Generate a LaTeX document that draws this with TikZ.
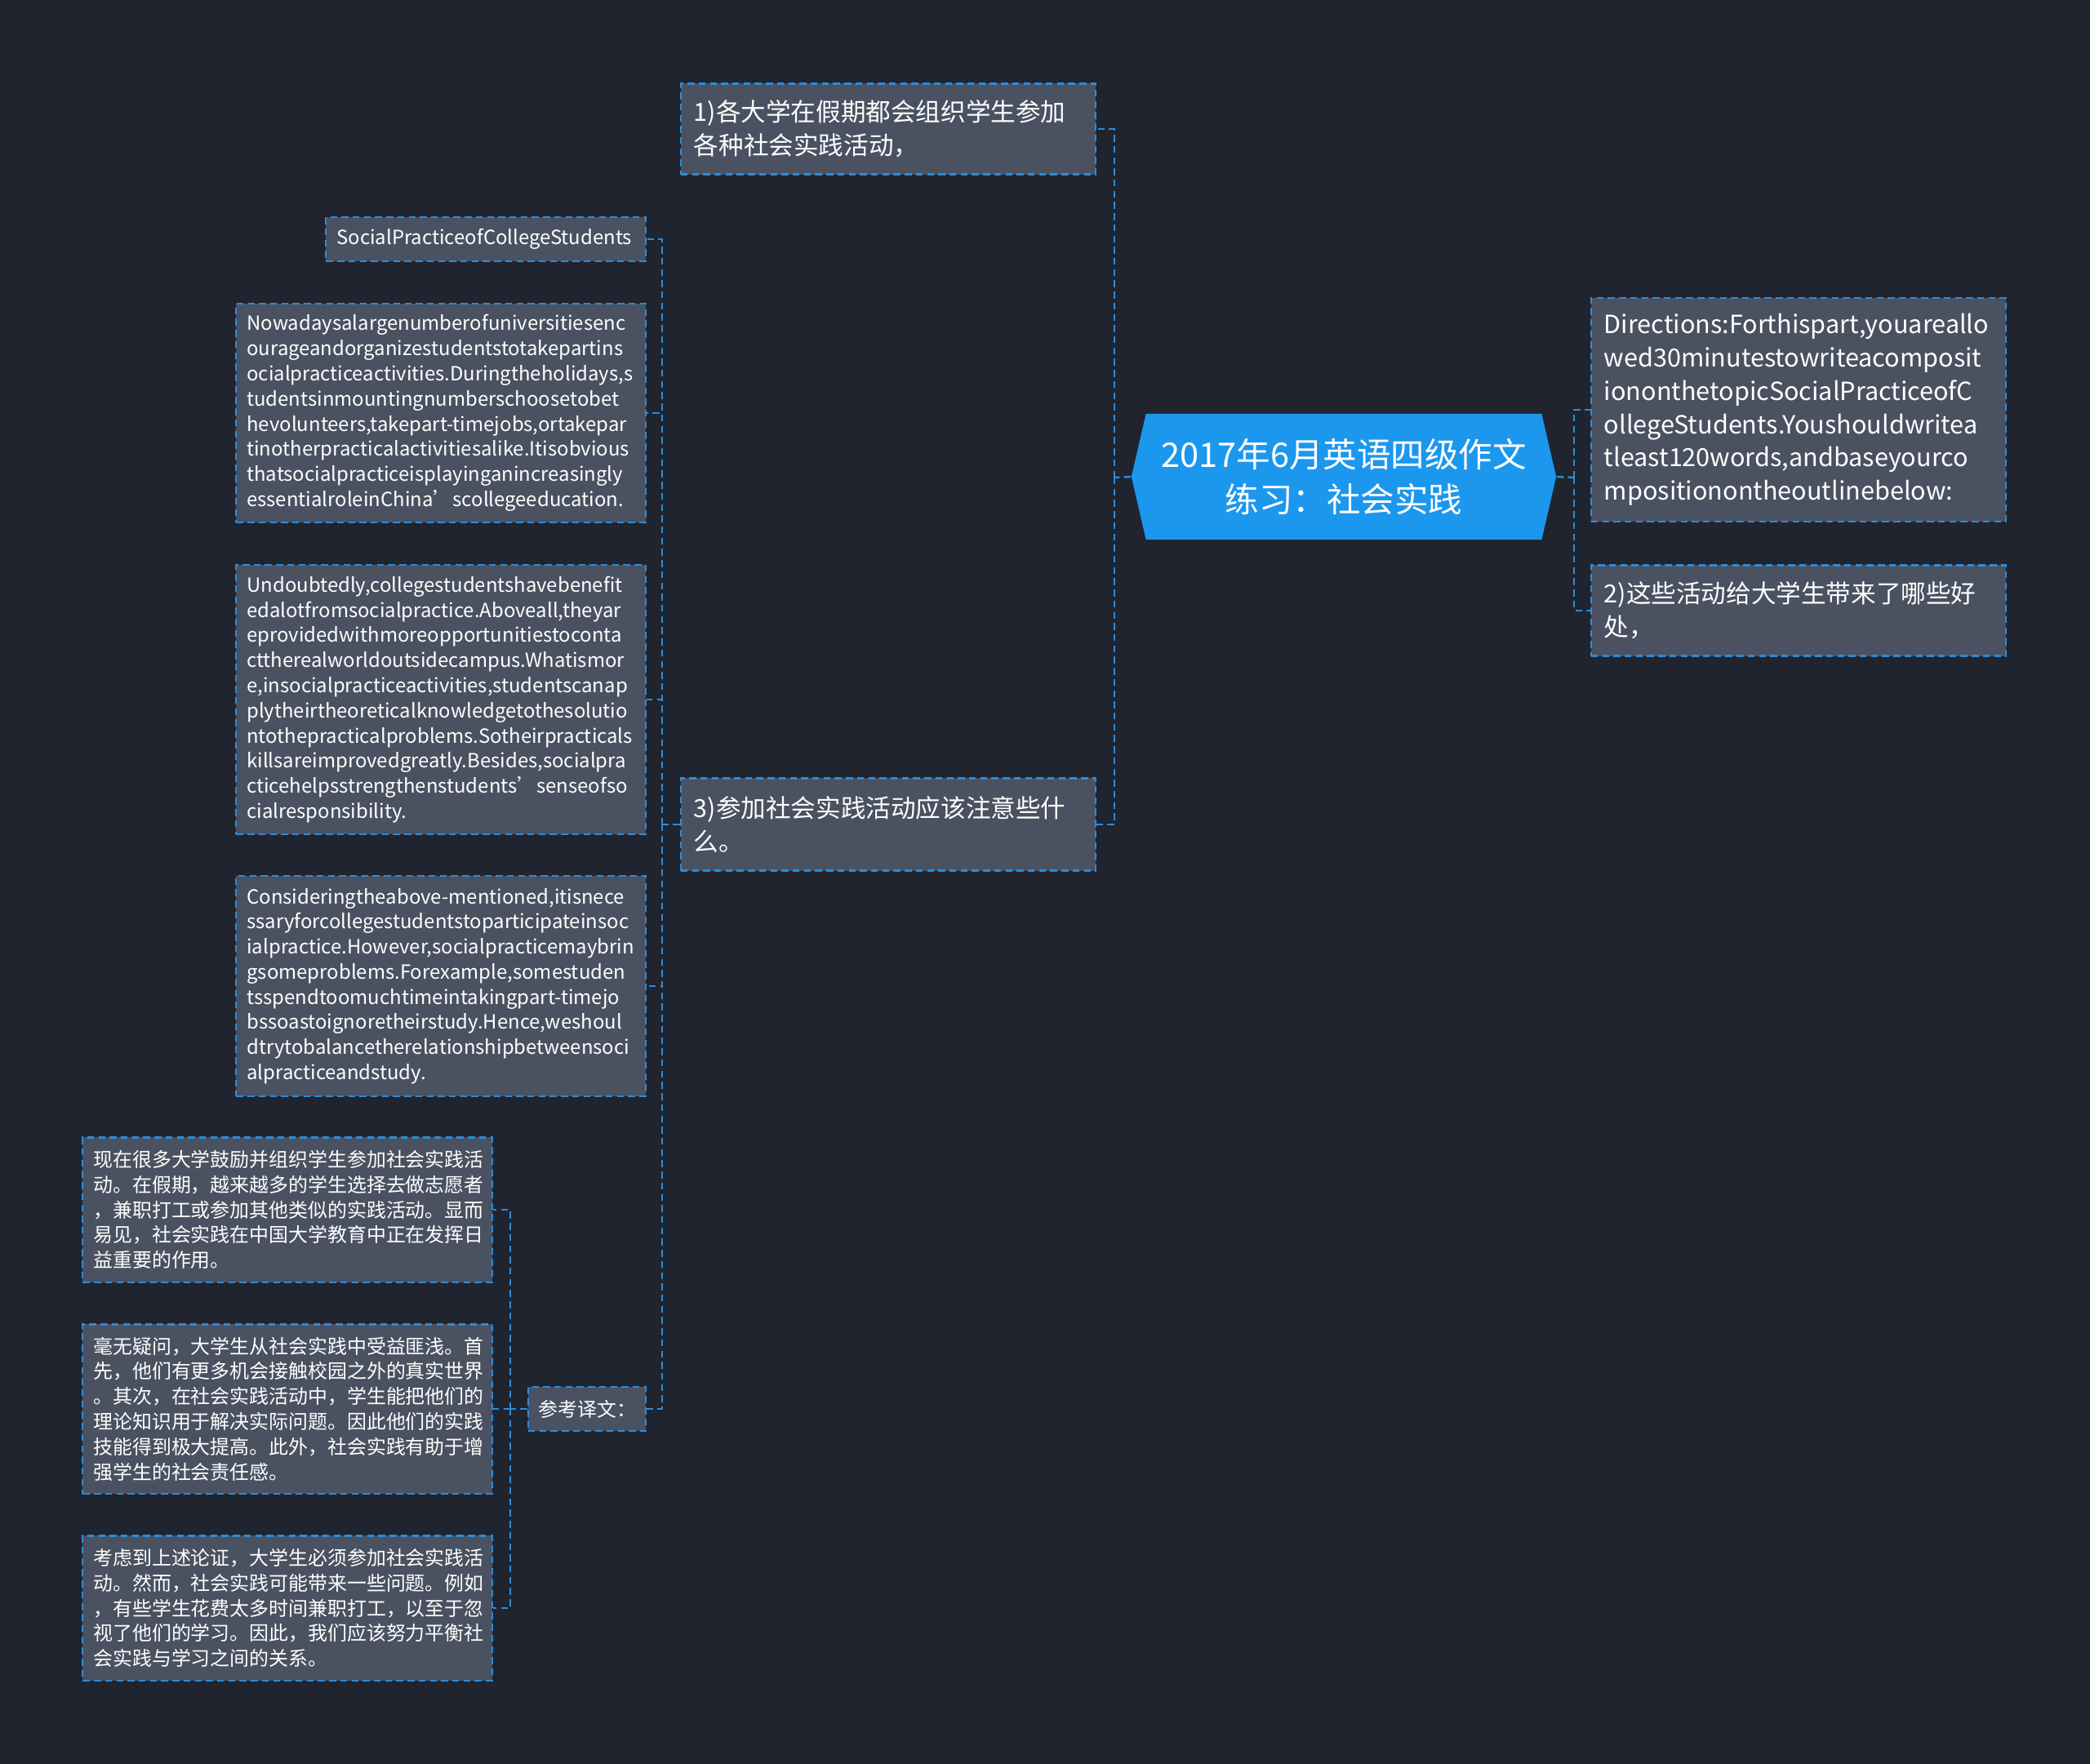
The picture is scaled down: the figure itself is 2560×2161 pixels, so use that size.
\documentclass[tikz,border=0pt]{standalone}
\usepackage{fontspec}
\setmainfont{Noto Sans CJK SC}
\usetikzlibrary{shapes.symbols}

\definecolor{bgnavy}{HTML}{20242F}
\definecolor{boxgray}{HTML}{4A5160}
\definecolor{linkblue}{HTML}{2B8CDA}
\definecolor{rootblue}{HTML}{1C97EE}

\tikzset{
  link/.style={draw=linkblue, line width=0.7pt, dash pattern=on 2.4pt off 1.5pt},
  topicbox/.style={draw=linkblue, fill=boxgray, line width=0.6pt, dash pattern=on 2.4pt off 1.5pt,
    text=white, font=\fontsize{8.7}{11.6}\selectfont, inner xsep=0.16cm, align=left},
  leafbox/.style={topicbox, font=\fontsize{6.8}{8.75}\selectfont, inner xsep=0.13cm},
  rootnode/.style={signal, signal to=west and east, signal pointer angle=154, fill=rootblue,
    text=white, font=\fontsize{11.8}{15.8}\selectfont, align=center}
}

\begin{document}
\begin{tikzpicture}[x=0.01cm, y=-0.01cm]

        \fill[bgnavy] (0,0) rectangle (2560,2161);
        \useasboundingbox (0,0) rectangle (2560,2161);

        \coordinate (ljoin) at (1365,585);
        \coordinate (rjoin) at (1928,585);
        \coordinate (tjoin) at (811,1010);
        \coordinate (cjoin) at (625,1726);

        \node[rootnode, minimum width=5.2cm, minimum height=1.54cm] (root) at (1646,584) {2017年6月英语四级作文\\练习：社会实践};

        \node[topicbox, text width=4.76cm, minimum height=1.11cm] (q1) at (1088,158) {1)各大学在假期都会组织学生参加\\各种社会实践活动，};
        \node[topicbox, text width=4.76cm, minimum height=1.13cm] (q3) at (1088,1010) {3)参加社会实践活动应该注意些什\\么。};
        \node[topicbox, text width=4.76cm, minimum height=2.74cm] (dir) at (2203,502) {Directions:Forthispart,youareallo\\wed30minutestowriteacomposit\\iononthetopicSocialPracticeofC\\ollegeStudents.Youshouldwritea\\tleast120words,andbaseyourco\\mpositionontheoutlinebelow:};
        \node[topicbox, text width=4.76cm, minimum height=1.11cm] (q2) at (2203,748) {2)这些活动给大学生带来了哪些好\\处，};

        \node[leafbox, text width=3.65cm, minimum height=0.54cm] (title) at (595,293) {SocialPracticeofCollegeStudents};
        \node[leafbox, text width=4.75cm, minimum height=2.68cm] (now) at (540,506) {Nowadaysalargenumberofuniversitiesenc\\ourageandorganizestudentstotakepartins\\ocialpracticeactivities.Duringtheholidays,s\\tudentsinmountingnumberschoosetobet\\hevolunteers,takepart-timejobs,ortakepar\\tinotherpracticalactivitiesalike.Itisobvious\\thatsocialpracticeisplayinganincreasingly\\essentialroleinChina’scollegeeducation.};
        \node[leafbox, text width=4.75cm, minimum height=3.30cm] (undoubt) at (540,857) {Undoubtedly,collegestudentshavebenefit\\edalotfromsocialpractice.Aboveall,theyar\\eprovidedwithmoreopportunitiestoconta\\cttherealworldoutsidecampus.Whatismor\\e,insocialpracticeactivities,studentscanap\\plytheirtheoreticalknowledgetothesolutio\\ntothepracticalproblems.Sotheirpracticals\\killsareimprovedgreatly.Besides,socialpra\\cticehelpsstrengthenstudents’senseofso\\cialresponsibility.};
        \node[leafbox, text width=4.75cm, minimum height=2.70cm] (consider) at (540,1208) {Consideringtheabove-mentioned,itisnece\\ssaryforcollegestudentstoparticipateinsoc\\ialpractice.However,socialpracticemaybrin\\gsomeproblems.Forexample,somestuden\\tsspendtoomuchtimeintakingpart-timejo\\bssoastoignoretheirstudy.Hence,weshoul\\dtrytobalancetherelationshipbetweensoci\\alpracticeandstudy.};
        \node[leafbox, text width=1.18cm, minimum height=0.54cm] (ref) at (719,1726) {参考译文：};

        \node[leafbox, text width=4.75cm, minimum height=1.77cm] (cn1) at (352,1482) {现在很多大学鼓励并组织学生参加社会实践活\\动。在假期，越来越多的学生选择去做志愿者\\，兼职打工或参加其他类似的实践活动。显而\\易见，社会实践在中国大学教育中正在发挥日\\益重要的作用。};
        \node[leafbox, text width=4.75cm, minimum height=2.07cm] (cn2) at (352,1726) {毫无疑问，大学生从社会实践中受益匪浅。首\\先，他们有更多机会接触校园之外的真实世界\\。其次，在社会实践活动中，学生能把他们的\\理论知识用于解决实际问题。因此他们的实践\\技能得到极大提高。此外，社会实践有助于增\\强学生的社会责任感。};
        \node[leafbox, text width=4.75cm, minimum height=1.77cm] (cn3) at (352,1970) {考虑到上述论证，大学生必须参加社会实践活\\动。然而，社会实践可能带来一些问题。例如\\，有些学生花费太多时间兼职打工，以至于忽\\视了他们的学习。因此，我们应该努力平衡社\\会实践与学习之间的关系。};

        % root to the two sides
        \draw[link] (root.west)--(ljoin);
        \draw[link] (ljoin) |- (q1.east);
        \draw[link] (ljoin) |- (q3.east);
        \draw[link] (root.east)--(rjoin);
        \draw[link] (rjoin) |- (dir.west);
        \draw[link] (rjoin) |- (q2.west);

        % children of 3)
        \draw[link] (q3.west)--(tjoin);
        \draw[link] (tjoin) |- (title.east);
        \draw[link] (tjoin) |- (now.east);
        \draw[link] (tjoin) |- (undoubt.east);
        \draw[link] (tjoin) |- (consider.east);
        \draw[link] (tjoin) |- (ref.east);

        % translation
        \draw[link] (ref.west)--(cjoin);
        \draw[link] (cjoin) |- (cn1.east);
        \draw[link] (cjoin) |- (cn2.east);
        \draw[link] (cjoin) |- (cn3.east);

    \end{tikzpicture}
\end{document}
